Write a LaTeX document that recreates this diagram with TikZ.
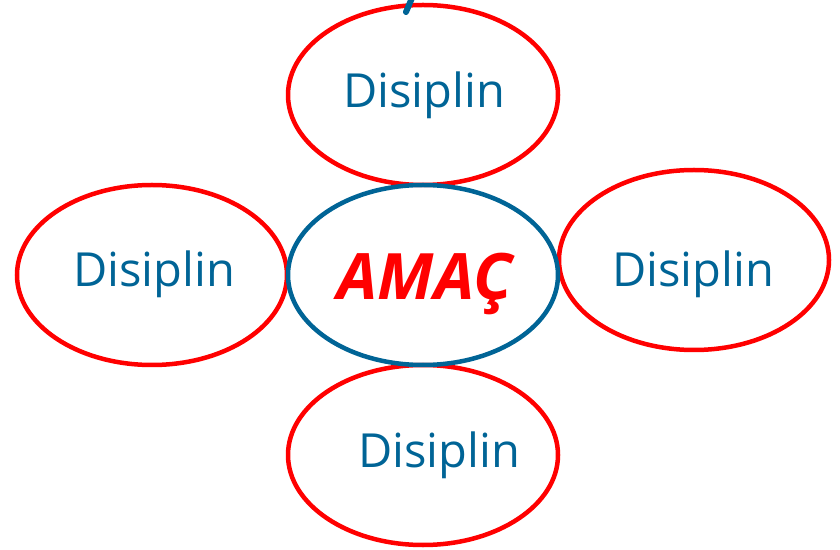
\documentclass[tikz,border=0pt]{standalone}
\usepackage{fontspec}
\setmainfont{Open Sans}
\usetikzlibrary{shapes.geometric}
\definecolor{dblue}{RGB}{0,100,150}
\definecolor{dred}{RGB}{255,0,0}
\begin{document}
\begin{tikzpicture}[x=1pt,y=1pt,
  outer/.style={ellipse,draw=dred,line width=4.5pt,minimum width=270pt,minimum height=180pt,inner sep=0pt},
  inner/.style={ellipse,draw=dblue,line width=4.5pt,minimum width=270pt,minimum height=180pt,inner sep=0pt},
  lbl/.style={text=dblue,anchor=base,inner sep=0pt,font=\fontsize{47}{50}\selectfont},
  goal/.style={text=dred,anchor=base,inner sep=0pt,font=\fontsize{64}{68}\selectfont\bfseries\itshape}]
\useasboundingbox (0,0) rectangle (840,549);
\node[outer] (top) at (423,454) {};
\node[outer] (left) at (152,274) {};
\node[outer] (right) at (694,289) {};
\node[outer] (bottom) at (423,94) {};
\node[inner] (center) at (423,274) {};
\node[lbl] (ttop) at (424,441) {Disiplin};
\node[lbl] (tleft) at (154,262) {Disiplin};
\node[lbl] (tright) at (693,262) {Disiplin};
\node[lbl] (tbottom) at (439,82) {Disiplin};
\node[goal] (tcenter) at (425,249) {AMAÇ};
\draw[dblue,line width=6pt,line cap=round] (412,551) -- (406,537);
\end{tikzpicture}
\end{document}
